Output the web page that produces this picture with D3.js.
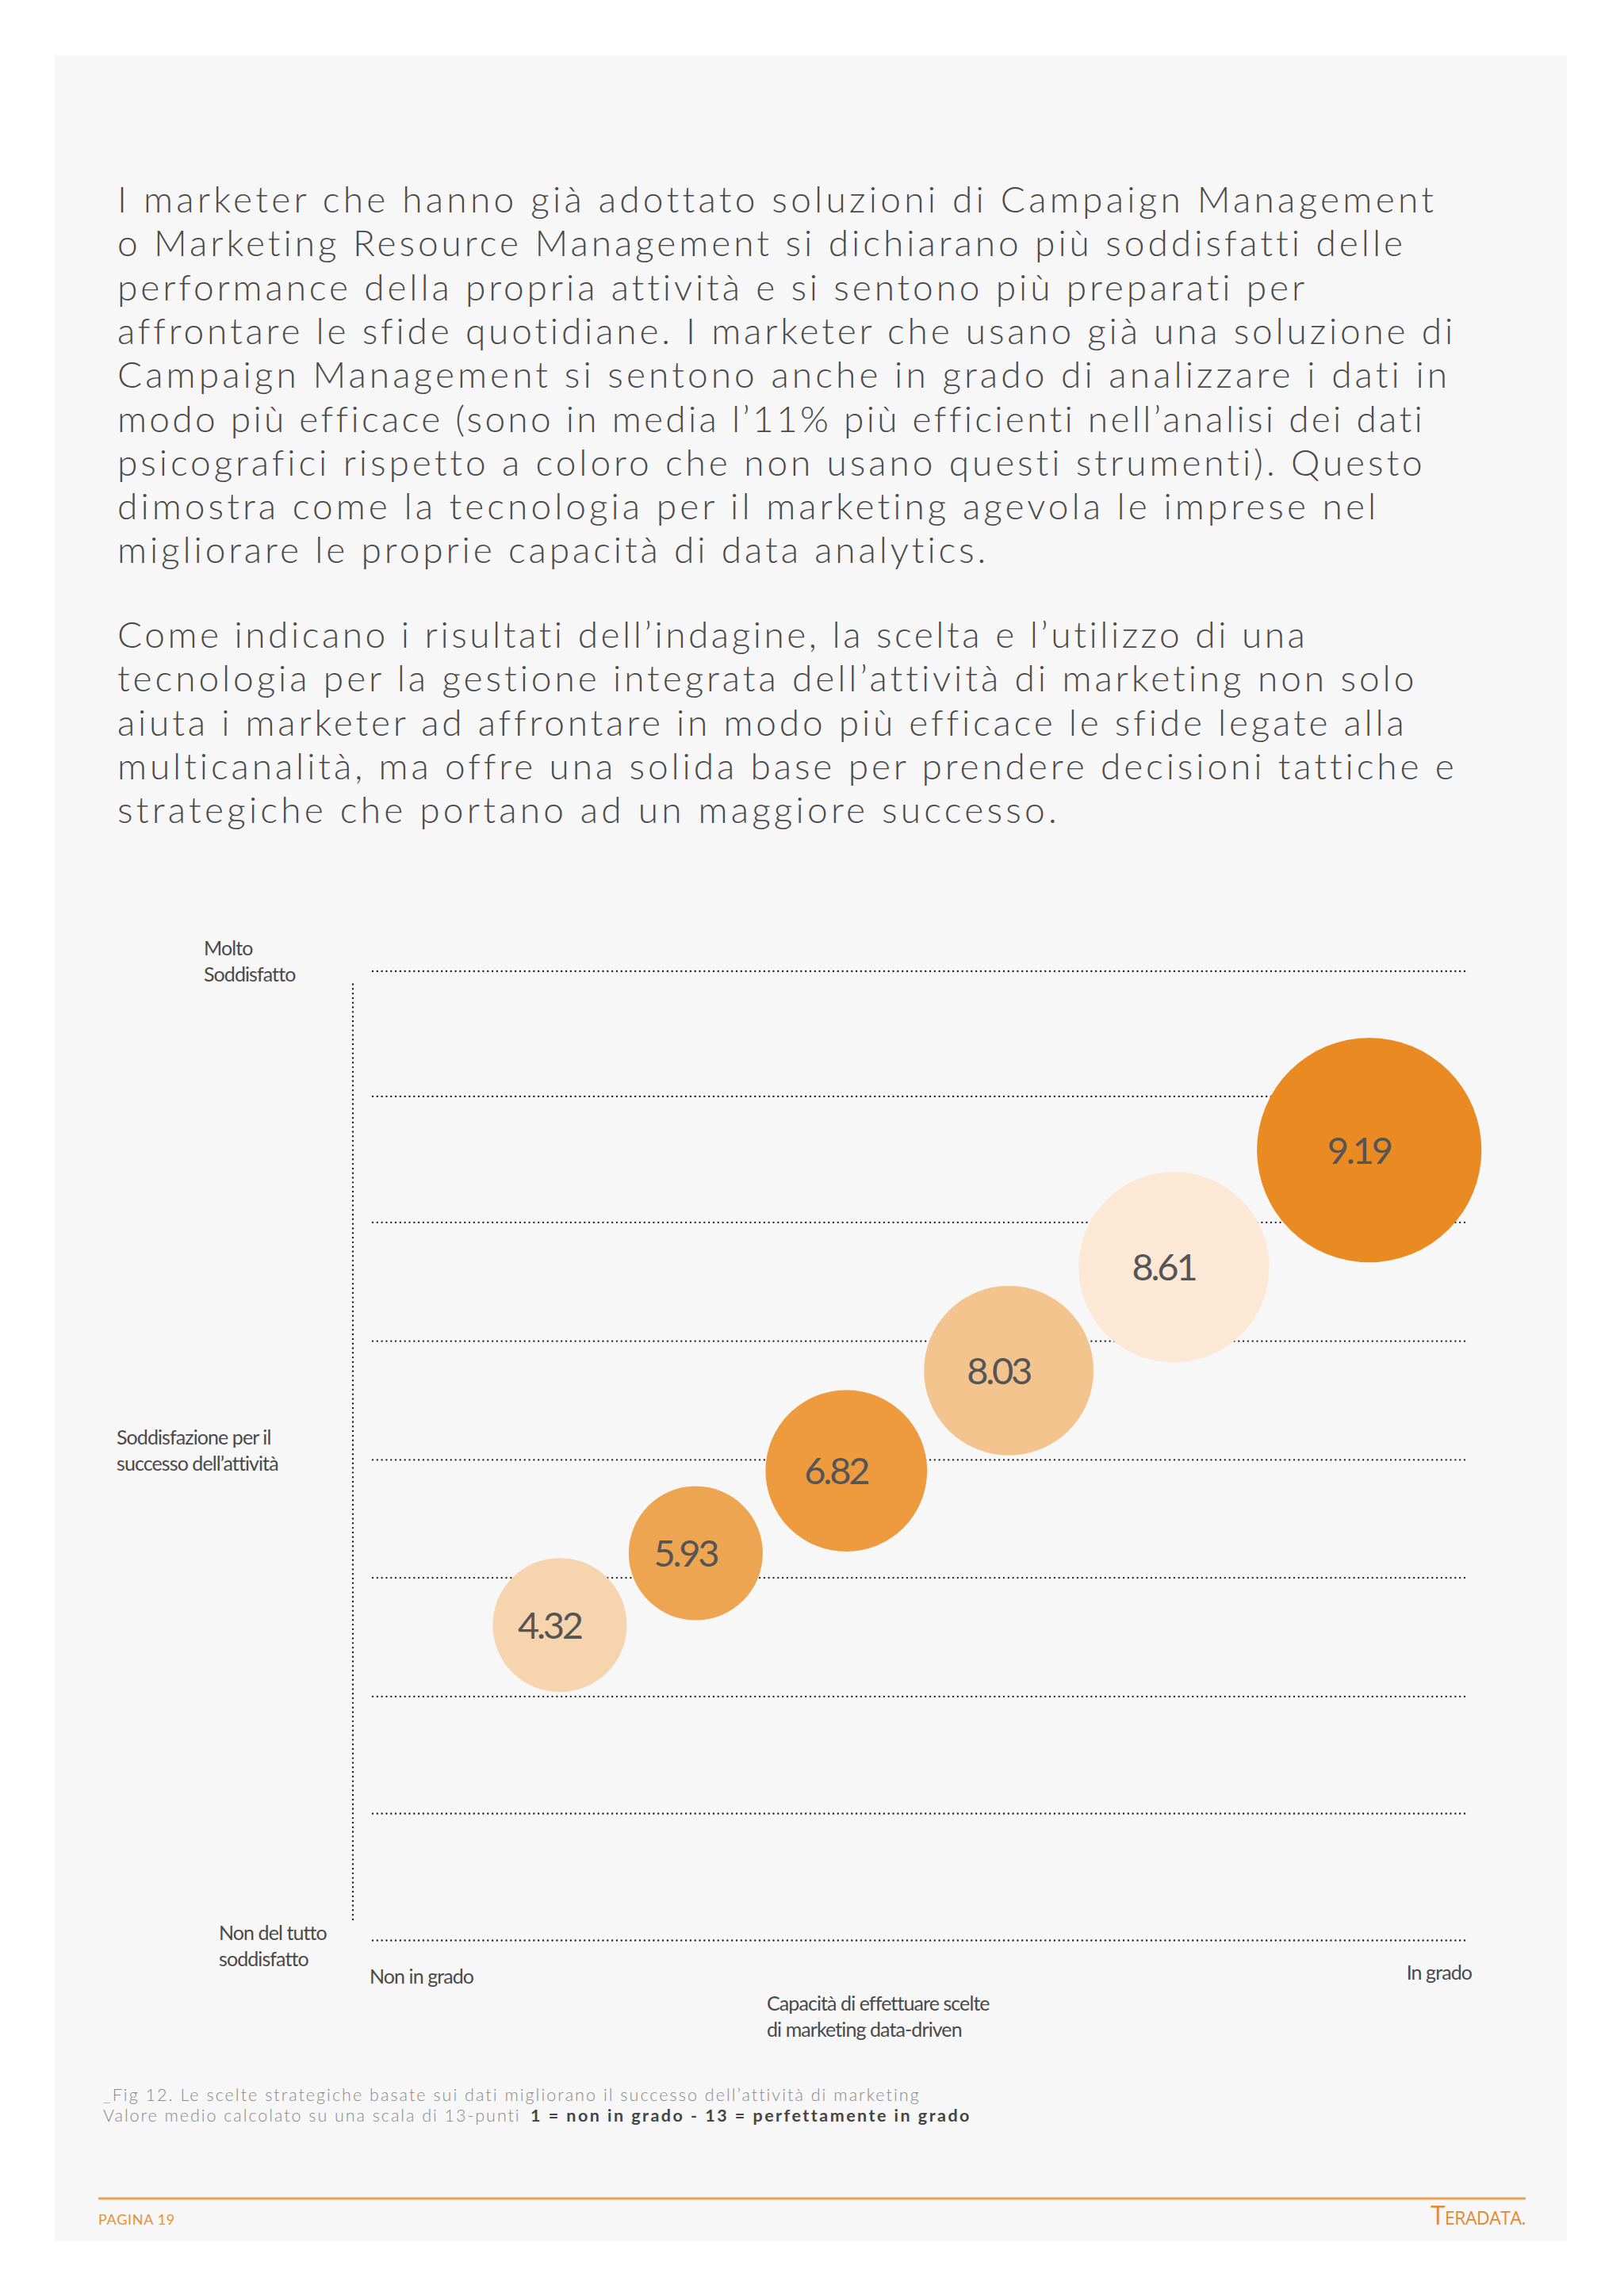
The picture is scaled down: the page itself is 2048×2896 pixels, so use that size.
<!DOCTYPE html>
<html>
<head>
<meta charset="utf-8">
<script src="https://cdn.jsdelivr.net/npm/d3@7"></script>
<style>
  body { margin: 0; background: #ffffff; }
  svg { display: block; }
</style>
</head>
<body>
<svg id="chart" width="2048" height="2896"></svg>
<script>
// ---------------- DATA ----------------
const paragraph1 = [
  "I marketer che hanno già adottato soluzioni di Campaign Management",
  "o Marketing Resource Management si dichiarano più soddisfatti delle",
  "performance della propria attività e si sentono più preparati per",
  "affrontare le sfide quotidiane. I marketer che usano già una soluzione di",
  "Campaign Management si sentono anche in grado di analizzare i dati in",
  "modo più efficace (sono in media l’11% più efficienti nell’analisi dei dati",
  "psicografici rispetto a coloro che non usano questi strumenti). Questo",
  "dimostra come la tecnologia per il marketing agevola le imprese nel",
  "migliorare le proprie capacità di data analytics."
];
const paragraph2 = [
  "Come indicano i risultati dell’indagine, la scelta e l’utilizzo di una",
  "tecnologia per la gestione integrata dell’attività di marketing non solo",
  "aiuta i marketer ad affrontare in modo più efficace le sfide legate alla",
  "multicanalità, ma offre una solida base per prendere decisioni tattiche e",
  "strategiche che portano ad un maggiore successo."
];

// bubbles: label value, position on the two 1..13 scales, relative size
const bubbleLabels = ["4.32", "5.93", "6.82", "8.03", "8.61", "9.19"];
const capacityScore = [3.05, 4.54, 6.19, 7.97, 9.78, 11.92];      // x: capacità (1 = non in grado, 13 = in grado)
const satisfactionScore = [4.90, 5.79, 6.81, 8.05, 9.33, 10.78];  // y: soddisfazione
const bubbleSize = [0.83, 0.83, 1.00, 1.05, 1.18, 1.39];           // radius in scale units

// dotted reference lines (satisfaction scale)
const gridValues = [1, 2.57, 4.02, 5.49, 6.95, 8.42, 9.89, 11.45, 13];

const yLabelTop = ["Molto", "Soddisfatto"];
const yLabelMid = ["Soddisfazione per il", "successo dell’attività"];
const yLabelBottom = ["Non del tutto", "soddisfatto"];
const xLabelLeft = "Non in grado";
const xLabelRight = "In grado";
const xTitle = ["Capacità di effettuare scelte", "di marketing data-driven"];
const captionLine1 = "_Fig 12. Le scelte strategiche basate sui dati migliorano il successo dell’attività di marketing";
const captionLine2Light = "Valore medio calcolato su una scala di 13-punti";
const captionLine2Bold = "1 = non in grado - 13 = perfettamente in grado";
const footerPage = "PAGINA 19";

// ---------------- DRAW ----------------
const svg = d3.select("#chart");
const lato = "Lato, 'Open Sans', sans-serif";

// tracking helper: sets letter-spacing so that text spans a target width
function fitTracking(sel, targetWidth) {
  const node = sel.node();
  node.setAttribute("letter-spacing", 0);
  const w = node.getComputedTextLength();
  const n = node.textContent.length;
  const ls = (targetWidth - w) / n;
  sel.attr("letter-spacing", ls);
  return ls;
}

// page panel
svg.append("rect")
  .attr("x", 69).attr("y", 70).attr("width", 1907).attr("height", 2757)
  .attr("fill", "#f7f7f7");

// body text (measured line widths of the original, used to set the tracking of each line)
const bodyLeft = 148;
const bodyWidths1 = [1663, 1625, 1501, 1686, 1682, 1645, 1649, 1592, 1100];
const bodyWidths2 = [1503, 1640, 1621, 1688, 1189];
function bodyBlock(lines, widths, y0) {
  return svg.append("g").selectAll("text").data(lines).join("text")
    .attr("x", bodyLeft)
    .attr("y", (d, i) => y0 + i * 55.3)
    .attr("font-family", lato)
    .attr("font-weight", 300)
    .attr("font-size", 46)
    .attr("fill", "#4a4a4a")
    .text(d => d)
    .each(function (d, i) { fitTracking(d3.select(this), widths[i]); });
}
bodyBlock(paragraph1, bodyWidths1, 268);
bodyBlock(paragraph2, bodyWidths2, 817);

// scales
const x = d3.scaleLinear().domain([1, 13]).range([470, 1851]);
const y = d3.scaleLinear().domain([1, 13]).range([2447, 1224.5]);
const unitPx = y(1) - y(2);
const r = d3.scaleLinear().domain([0, 1]).range([0, unitPx]);

const dotStyle = sel => sel
  .attr("stroke", "#222222")
  .attr("stroke-width", 2.4)
  .attr("stroke-dasharray", "0.01 5.8")
  .attr("stroke-linecap", "round");

// gridlines through a d3 axis
const gridAxis = d3.axisLeft(y)
  .tickValues(gridValues)
  .tickSize(-(x(13) - x(1)))
  .tickFormat("");
const gGrid = svg.append("g")
  .attr("transform", `translate(${x(1)},0)`)
  .call(gridAxis);
gGrid.select(".domain").remove();
gGrid.selectAll(".tick line").call(dotStyle);

// vertical dotted axis
svg.append("line")
  .attr("x1", x(1) - 25).attr("x2", x(1) - 25)
  .attr("y1", y(13) + 17).attr("y2", y(1) - 25)
  .call(dotStyle);

// bubbles
const bubbleColor = d3.scaleOrdinal()
  .domain(bubbleLabels)
  .range(["#f6d4ad", "#eea551", "#ee9a3f", "#f4c48f", "#fce8d4", "#ea8a22"]);

const bubbles = bubbleLabels.map((lab, i) => ({
  label: lab, cx: capacityScore[i], cy: satisfactionScore[i], s: bubbleSize[i]
}));

const gB = svg.append("g");
gB.selectAll("circle").data(bubbles).join("circle")
  .attr("cx", d => x(d.cx))
  .attr("cy", d => y(d.cy))
  .attr("r", d => r(d.s))
  .attr("fill", d => bubbleColor(d.label));

const numText = gB.selectAll("text").data(bubbles).join("text")
  .attr("x", d => x(d.cx) - 13)
  .attr("y", d => y(d.cy) + 17)
  .attr("text-anchor", "middle")
  .attr("font-family", lato)
  .attr("font-size", 47)
  .attr("fill", "#555555")
  .text(d => d.label);
{
  const ls = fitTracking(numText.filter(d => d.label === "9.19"), 80);
  numText.attr("letter-spacing", ls);
}

// axis labels
const labelGroups = [];
function multiLabel(lines, xPos, yPos, anchor) {
  const s = svg.append("g").selectAll("text").data(lines).join("text")
    .attr("x", xPos)
    .attr("y", (d, i) => yPos + i * 32.5)
    .attr("text-anchor", anchor || "start")
    .attr("font-family", lato)
    .attr("font-size", 25)
    .attr("fill", "#4a4a4a")
    .text(d => d);
  labelGroups.push(s);
  return s;
}
multiLabel(yLabelTop, 257, 1205);
const midLab = multiLabel(yLabelMid, 147, 1822);
multiLabel(yLabelBottom, 276, 2447);
multiLabel([xLabelLeft], 466, 2502);
multiLabel([xLabelRight], 1856, 2497, "end");
multiLabel(xTitle, 967, 2536);
{
  const ls = fitTracking(midLab.filter((d, i) => i === 1), 203);
  labelGroups.forEach(s => s.attr("letter-spacing", ls));
}

// caption
const capSize = 21.5;
const cap1 = svg.append("text")
  .attr("x", 130).attr("y", 2650)
  .attr("font-family", lato).attr("font-weight", 300)
  .attr("font-size", capSize)
  .attr("fill", "#888888")
  .text(captionLine1);
fitTracking(cap1, 1031);
const cap2a = svg.append("text")
  .attr("x", 130).attr("y", 2676)
  .attr("font-family", lato).attr("font-weight", 300)
  .attr("font-size", capSize)
  .attr("fill", "#888888")
  .text(captionLine2Light);
fitTracking(cap2a, 527);
const cap2b = svg.append("text")
  .attr("x", 669).attr("y", 2676)
  .attr("font-family", lato).attr("font-weight", 700)
  .attr("font-size", capSize)
  .attr("fill", "#454545")
  .text(captionLine2Bold);
fitTracking(cap2b, 555);

// footer
svg.append("line")
  .attr("x1", 124).attr("x2", 1924).attr("y1", 2773).attr("y2", 2773)
  .attr("stroke", "#eda052").attr("stroke-width", 3);
const page = svg.append("text")
  .attr("x", 124).attr("y", 2806)
  .attr("font-family", lato).attr("font-size", 18)
  .attr("fill", "#e8912f")
  .text(footerPage);
fitTracking(page, 97);
const logo = svg.append("text")
  .attr("x", 1924).attr("y", 2806).attr("text-anchor", "end")
  .attr("font-family", "'Liberation Sans Narrow', 'Open Sans', sans-serif")
  .attr("fill", "#e38a2a").attr("letter-spacing", -0.5);
logo.append("tspan").attr("font-size", 33).text("T");
logo.append("tspan").attr("font-size", 23).text("ERADATA.");
</script>
</body>
</html>
